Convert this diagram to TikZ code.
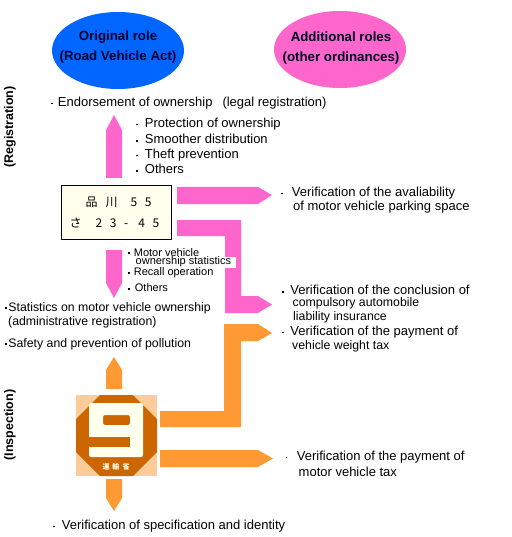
\documentclass[tikz,border=0pt]{standalone}
\usepackage{fontspec}
\setmainfont{Liberation Sans}
\newfontfamily\jpfont{Noto Sans CJK JP}
\definecolor{rblue}{HTML}{0066FF}
\definecolor{rpink}{HTML}{FF66CC}
\definecolor{rorange}{HTML}{FF9933}
\definecolor{rbrown}{HTML}{CC6600}
\definecolor{rpeach}{HTML}{FFCC99}
\definecolor{rcream}{HTML}{FFFFEE}
\newcommand{\bl}{\raisebox{2pt}{\rule{1.7pt}{1.7pt}}}
\tikzset{
  lab/.style={anchor=west,inner sep=0pt,align=left,font=\fontsize{13}{14}\selectfont,text=black},
  midlab/.style={lab,font=\fontsize{12.3}{14}\selectfont},
  smalllab/.style={lab,font=\fontsize{11}{12}\selectfont},
  role/.style={ellipse,minimum width=132pt,minimum height=77pt,inner sep=0pt},
  roletext/.style={inner sep=0pt,align=center,font=\bfseries\fontsize{13.3}{20}\selectfont,text=black!85!blue},
  side/.style={rotate=90,inner sep=0pt,font=\bfseries\fontsize{12.5}{14}\selectfont},
  pinkarrow/.style={fill=rpink,draw=none},
  orangearrow/.style={fill=rorange,draw=none},
  platetext/.style={anchor=west,inner sep=0pt,font=\jpfont\fontsize{12}{14}\selectfont}
}
\usetikzlibrary{shapes.geometric}
\newcommand{\dg}[1]{\makebox[14.2pt][l]{#1}}
\begin{document}
\begin{tikzpicture}[x=1pt,y=-1pt]
\useasboundingbox[fill=white] (0,0) rectangle (511,537);
% ellipses
\node[role,fill=rblue] (orig) at (118,50.5) {};
\node[roletext] (origt) at (118,47.5) {Original role\\(Road Vehicle Act)};
\node[role,fill=rpink] (add) at (340,49.5) {};
\node[roletext] (addt) at (341,48) {Additional roles\\(other ordinances)};
% side labels
\node[side] (reg) at (10,127) {(Registration)};
\node[side] (insp) at (10,425) {(Inspection)};
% pink arrows
\path[pinkarrow] (106,178) -- (106,130) -- (114,115) -- (122,130) -- (122,178) -- cycle;
\path[pinkarrow] (106,250) -- (122,250) -- (122,283) -- (114,298) -- (106,283) -- cycle;
\path[pinkarrow] (177,187) -- (258,187) -- (272,195) -- (258,204) -- (177,204) -- cycle;
\path[pinkarrow] (177,220) -- (241,220) -- (241,296) -- (258,296) -- (272,304.5) -- (258,313) -- (225,313) -- (225,236) -- (177,236) -- cycle;
% orange arrows
\path[orangearrow] (224,324) -- (258,324) -- (272,333) -- (258,341) -- (241,341) -- (241,427) -- (160,427) -- (160,411) -- (224,411) -- cycle;
\path[orangearrow] (160,450) -- (258,450) -- (273,458.5) -- (258,467) -- (160,467) -- cycle;
\path[orangearrow] (106,389) -- (106,370) -- (114,357) -- (122,370) -- (122,389) -- cycle;
\path[orangearrow] (106,479) -- (122,479) -- (122,498) -- (114,511) -- (106,498) -- cycle;
% licence plate
\node[draw=black,line width=1pt,fill=rcream,minimum width=110pt,minimum height=54pt,inner sep=0pt] (plate) at (116.5,212.5) {};
\node[platetext] (plate1) at (85.5,202) {品\hspace{8pt}川\hspace{13pt}5\hspace{7.5pt}5};
\node[platetext] (plate2) at (69.5,223) {さ\hspace{14pt}\dg{2}\dg{3}\dg{-}\dg{4}\dg{5}};
% inspection badge
\path[fill=rpeach] (76,395) rectangle (157,476);
\path[fill=rbrown] (100,395) -- (133,395) -- (157,419) -- (157,452) -- (133,476) -- (100,476) -- (76,452) -- (76,419) -- cycle;
\path[fill=rcream,even odd rule,rounded corners=2pt] (89,403) rectangle (143,457)
   (103,415) rectangle (130,425);
\path[fill=rbrown] (89,437) rectangle (130,447);
\node[inner sep=0pt,text=rcream,font=\jpfont\bfseries\fontsize{7}{8}\selectfont] (badge) at (116,467) {運\hspace{3pt}輸\hspace{3pt}省};
% labels
\node[lab] (t1) at (51,103) {\bl\hspace{5pt}Endorsement of ownership\hspace{10pt}(legal registration)};
\node[lab] (t2) at (136,124) {\bl\hspace{7pt}Protection of ownership};
\node[lab] (t3) at (136,139) {\bl\hspace{7pt}Smoother distribution};
\node[lab] (t4) at (136,155) {\bl\hspace{7pt}Theft prevention};
\node[lab] (t5) at (136,169) {\bl\hspace{7pt}Others};
\node[lab] (t6) at (281,193) {\bl\hspace{9pt}Verification of the avaliability};
\node[lab] (t6b) at (293,207) {of motor vehicle parking space};
\node[fill=white,minimum width=100pt,minimum height=11pt,inner sep=0pt,anchor=west] (wb) at (136,262.5) {};
\node[smalllab,font=\fontsize{11}{8.5}\selectfont] (t7) at (128,257.5) {\bl\hspace{4pt}Motor vehicle\\\hspace{7.5pt}ownership statistics};
\node[smalllab] (t8) at (128,273) {\bl\hspace{4pt}Recall operation};
\node[smalllab] (t9) at (128,288) {\bl\hspace{5pt}Others};
\node[midlab] (t10) at (5,308) {\bl\hspace{1.5pt}Statistics on motor vehicle ownership};
\node[midlab] (t11) at (8,322) {(administrative registration)};
\node[midlab] (t12) at (5,344) {\bl\hspace{1.5pt}Safety and prevention of pollution};
\node[lab] (t13) at (282,290) {\bl\hspace{6.5pt}Verification of the conclusion of};
\node[midlab] (t13b) at (292.5,303.5) {compulsory automobile};
\node[midlab] (t13c) at (293,317) {liability insurance};
\node[lab] (t14) at (282,332) {\bl\hspace{6.5pt}Verification of the payment of};
\node[midlab] (t14b) at (292,346) {vehicle weight tax};
\node[lab] (t15) at (285.5,457) {\bl\hspace{9.5pt}Verification of the payment of};
\node[lab] (t15b) at (298.5,472) {motor vehicle tax};
\node[lab] (t16) at (53,526) {\bl\hspace{7pt}Verification of specification and identity};
\end{tikzpicture}
\end{document}
